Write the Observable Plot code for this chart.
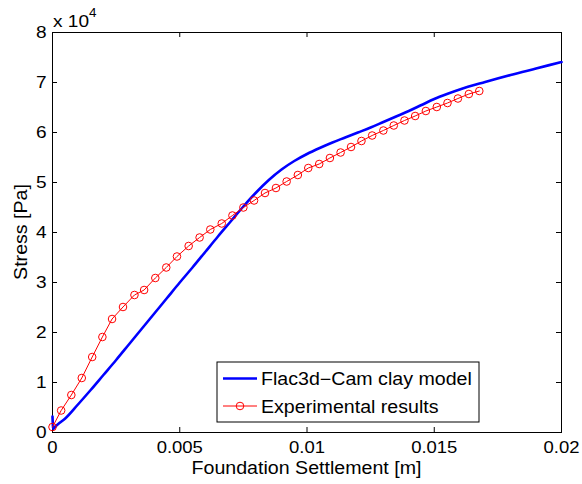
<!DOCTYPE html>
<html>
<head>
<meta charset="utf-8">
<script src="https://cdn.jsdelivr.net/npm/d3@7"></script>
<script src="https://cdn.jsdelivr.net/npm/@observablehq/plot@0.6"></script>
<style>
  html, body { margin: 0; padding: 0; background: #fff; }
</style>
</head>
<body>
<div id="chart"></div>
<script>
// Experimental results (red circles)
const expSettlement = [0, 0.00034, 0.00074, 0.00115, 0.00156, 0.00196, 0.00234, 0.00277, 0.00322, 0.0036,
  0.00404, 0.00447, 0.00489, 0.00535, 0.00578, 0.0062, 0.00665, 0.00707, 0.0075, 0.00792,
  0.00835, 0.00878, 0.0092, 0.00964, 0.01005, 0.01048, 0.0109, 0.01132, 0.01173, 0.01214,
  0.01256, 0.013, 0.01341, 0.01383, 0.01425, 0.01467, 0.0151, 0.01552, 0.01593, 0.01636, 0.01677];
const expStress = [1100, 4400, 7500, 10900, 15100, 19100, 22700, 25100, 27500, 28500,
  30900, 33000, 35200, 37300, 39000, 40600, 41800, 43400, 45000, 46400,
  47900, 48900, 50200, 51500, 52900, 53700, 54900, 56000, 57100, 58300,
  59400, 60400, 61400, 62400, 63300, 64300, 65100, 65900, 66800, 67700, 68300];

// Flac3d-Cam clay model (blue line)
const modelSettlement = [0, 0.00003, 0.0001, 0.0003, 0.0005, 0.001, 0.0015, 0.002, 0.0025, 0.003,
  0.0035, 0.004, 0.0045, 0.005, 0.0055, 0.006, 0.0065, 0.007, 0.0075, 0.008,
  0.0085, 0.009, 0.0095, 0.01, 0.0105, 0.011, 0.0115, 0.012, 0.0125, 0.013,
  0.0135, 0.014, 0.0145, 0.015, 0.0155, 0.016, 0.017, 0.018, 0.019, 0.02];
const modelStress = [3200, 700, 1100, 2000, 2800, 5600, 8500, 11500, 14500, 17600,
  20700, 23800, 26900, 30000, 33000, 36100, 39200, 42200, 45200, 48000,
  50500, 52600, 54300, 55700, 56900, 58000, 59000, 60000, 61000, 62100,
  63200, 64300, 65500, 66700, 67700, 68600, 70100, 71500, 72800, 74100];

const xTicks = [0, 0.005, 0.01, 0.015, 0.02];
const xTickLabels = ["0", "0.005", "0.01", "0.015", "0.02"];
const yTicks = [0, 10000, 20000, 30000, 40000, 50000, 60000, 70000, 80000];
const yTickLabels = ["0", "1", "2", "3", "4", "5", "6", "7", "8"];

const seriesNames = ["Flac3d\u2212Cam clay model", "Experimental results"];
const xLabel = "Foundation Settlement [m]";
const yLabel = "Stress [Pa]";

const expData = expSettlement.map((x, i) => ({x, y: expStress[i]}));
const modelData = modelSettlement.map((x, i) => ({x, y: modelStress[i]}));

const W = 582, H = 484;
const mL = 52, mR = 21, mT = 32, mB = 52;
const innerW = W - mL - mR, innerH = H - mT - mB;
const TICK = 5;

const chart = Plot.plot({
  width: W, height: H,
  marginLeft: mL, marginRight: mR, marginTop: mT, marginBottom: mB,
  style: {fontFamily: "'Liberation Sans', Arial, sans-serif", fontSize: "17px", background: "white", color: "black"},
  x: {domain: [0, 0.02]},
  y: {domain: [0, 80000]},
  marks: [
    Plot.frame({stroke: "black", strokeWidth: 1}),
    Plot.tickX(xTicks, {x: d => d, stroke: "black", insetBottom: innerH - TICK}),
    Plot.tickX(xTicks, {x: d => d, stroke: "black", insetTop: innerH - TICK}),
    Plot.tickY(yTicks, {y: d => d, stroke: "black", insetRight: innerW - TICK}),
    Plot.tickY(yTicks, {y: d => d, stroke: "black", insetLeft: innerW - TICK}),
    Plot.line(modelData, {x: "x", y: "y", stroke: "#0000ff", strokeWidth: 2.6, curve: "monotone-x"}),
    Plot.line(expData, {x: "x", y: "y", stroke: "#ff0000", strokeWidth: 1}),
    Plot.dot(expData, {x: "x", y: "y", r: 3.8, stroke: "#ff0000", fill: "none", strokeWidth: 1}),
    Plot.axisX({ticks: xTicks, tickSize: 0, tickPadding: 9, tickFormat: (d) => xTickLabels[xTicks.indexOf(d)], label: null, fontSize: 16.5}),
    Plot.axisY({ticks: yTicks, tickSize: 0, tickPadding: 6, tickFormat: (d) => yTickLabels[yTicks.indexOf(d)], label: null, fontSize: 17})
  ]
});

document.getElementById("chart").appendChild(chart);
const svg = d3.select(chart);
const xs = chart.scale("x"), ys = chart.scale("y");
const cx = (xs.range[0] + xs.range[1]) / 2;
const cy = (ys.range[0] + ys.range[1]) / 2;

// axis titles
svg.append("text").attr("x", cx).attr("y", 474).attr("text-anchor", "middle")
  .attr("font-size", 17.5).attr("fill", "black").text(xLabel);
svg.append("text").attr("transform", `translate(27,${cy}) rotate(-90)`).attr("text-anchor", "middle")
  .attr("font-size", 17.5).attr("fill", "black").text(yLabel);

// exponent
svg.append("text").attr("x", 53).attr("y", 27).attr("text-anchor", "start")
  .attr("font-size", 17).attr("fill", "black").text("x 10");
svg.append("text").attr("x", 89).attr("y", 17).attr("text-anchor", "start")
  .attr("font-size", 12).attr("fill", "black").text("4");

// legend
const lg = svg.append("g").attr("text-anchor", "start");
lg.append("rect").attr("x", 217).attr("y", 362).attr("width", 262).attr("height", 60)
  .attr("fill", "white").attr("stroke", "black").attr("stroke-width", 1);
lg.append("line").attr("x1", 223).attr("x2", 257).attr("y1", 378.5).attr("y2", 378.5)
  .attr("stroke", "#0000ff").attr("stroke-width", 2.6);
lg.append("text").attr("x", 261).attr("y", 385).attr("text-anchor", "start")
  .attr("font-size", 17.5).attr("fill", "black").text(seriesNames[0]);
lg.append("line").attr("x1", 223).attr("x2", 257).attr("y1", 406).attr("y2", 406)
  .attr("stroke", "#ff0000").attr("stroke-width", 1);
lg.append("circle").attr("cx", 240).attr("cy", 406).attr("r", 3.8)
  .attr("fill", "none").attr("stroke", "#ff0000").attr("stroke-width", 1);
lg.append("text").attr("x", 261).attr("y", 413).attr("text-anchor", "start")
  .attr("font-size", 17.5).attr("fill", "black").text(seriesNames[1]);

// widen glyphs horizontally to match the reference rendering
const S = 1.12;
chart.querySelectorAll("text").forEach(t => {
  const L = t.getComputedTextLength();
  if (L > 0) {
    t.setAttribute("textLength", (L * S).toFixed(2));
    t.setAttribute("lengthAdjust", "spacingAndGlyphs");
  }
});
</script>
</body>
</html>
